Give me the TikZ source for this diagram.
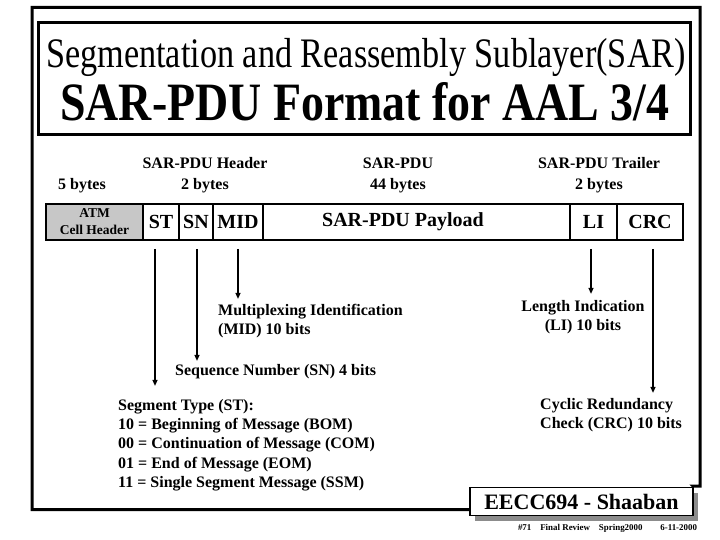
\documentclass[tikz,border=0pt]{standalone}
\usepackage{fontspec}
\setmainfont{Liberation Serif}
\usetikzlibrary{arrows.meta,shadows}
\begin{document}
\begin{tikzpicture}[x=1pt,y=-1pt,
  frame/.style={line width=3pt},
  field/.style={draw,line width=1.8pt,minimum height=36pt,inner sep=0pt,font=\fontsize{20}{24}\selectfont\bfseries},
  hdr/.style={align=center,inner sep=0pt,font=\fontsize{16}{21}\selectfont\bfseries},
  lbl/.style={align=left,inner sep=0pt,font=\fontsize{16}{19.3}\selectfont\bfseries},
  arr/.style={line width=1.3pt,-{Triangle[length=6pt,width=5pt]}}]
\useasboundingbox (0,0) rectangle (720,540);
\fill[white] (0,0) rectangle (720,540);

% footer box
\node[draw,line width=1.5pt,fill=white,minimum width=223pt,minimum height=28pt,inner sep=0pt,
  drop shadow={shadow xshift=5pt,shadow yshift=-5pt,fill=black!45,opacity=1},
  font=\fontsize{22}{24}\selectfont\bfseries] (eecc) at (581.5,501.5) {EECC694 - Shaaban};
\node[inner sep=0pt,font=\bfseries] (foot) at (607.5,528) {\resizebox{179pt}{!}{\#71\quad Final Review\quad Spring2000\quad\quad 6-11-2000}};

% outer frame
\draw[frame] ([yshift=-8pt]eecc.west) -- (32,509.5) -- (32,7.5) -- (700,7.5) -- (700,486) -- (693,486) -- (eecc.north east);
% title frame
\draw[frame] (38.5,22.5) rectangle (690,134.5);
\node[anchor=base,inner sep=0pt,font=\fontsize{42}{42}\selectfont] (t1) at (366,68)
  {\scalebox{0.815}[1]{Segmentation and Reassembly Sublayer(SAR)}};
\node[anchor=base,inner sep=0pt,font=\fontsize{54}{54}\selectfont\bfseries] (t2) at (365,121)
  {\scalebox{0.85}[1]{SAR-PDU Format for AAL 3/4}};

% headers
\node[hdr] (h5) at (82,186) {5 bytes};
\node[hdr] (hh) at (205,175) {SAR-PDU Header\\2 bytes};
\node[hdr] (hp) at (398,175) {SAR-PDU\\44 bytes};
\node[hdr] (ht) at (599,175) {SAR-PDU Trailer\\2 bytes};

% fields
\node[field,fill=black!22,minimum width=97pt,align=center,font=\fontsize{13.5}{17}\selectfont\bfseries] (atm) at (94.5,222) {ATM\\Cell Header};
\node[field,minimum width=36pt] (st) at (161,222) {ST};
\node[field,minimum width=34pt] (sn) at (196,222) {SN};
\node[field,minimum width=50pt] (mid) at (238,222) {MID};
\node[field,minimum width=307pt] (pay) at (416.5,222) {};
\node[inner sep=0pt,font=\fontsize{20}{24}\selectfont\bfseries] (paytext) at (403,222) {SAR-PDU Payload};
\node[field,minimum width=47pt] (li) at (593.5,222) {LI};
\node[field,minimum width=66pt] (crc) at (650,222) {CRC};

% labels
\node[lbl,anchor=north west] (midtext) at (218,304) {Multiplexing Identification\\ (MID) 10 bits};
\node[lbl,anchor=base west] (sntext) at (175,375) {Sequence Number (SN) 4 bits};
\node[lbl,anchor=north,align=center] (litext) at (583,300) {Length Indication\\(LI) 10 bits};
\node[lbl,anchor=north west] (crctext) at (540,398) {Cyclic Redundancy\\Check (CRC) 10 bits};
\node[lbl,anchor=north west] (sttext) at (118,399) {Segment Type (ST):\\10 = Beginning of Message (BOM)\\00 = Continuation of Message (COM)\\01 = End of Message (EOM)\\11 = Single Segment Message (SSM)};

% arrows
\draw[arr] ([xshift=-6pt,yshift=-8pt]st.south) -- ++(0,137);
\draw[arr] ([xshift=1pt,yshift=-8pt]sn.south) -- ++(0,112);
\draw[arr] ([yshift=-8pt]mid.south) -- ++(0,50);
\draw[arr] ([xshift=-2.5pt,yshift=-8pt]li.south) -- ++(0,45);
\draw[arr] ([xshift=3pt,yshift=-8pt]crc.south) -- ++(0,144);
\end{tikzpicture}
\end{document}
